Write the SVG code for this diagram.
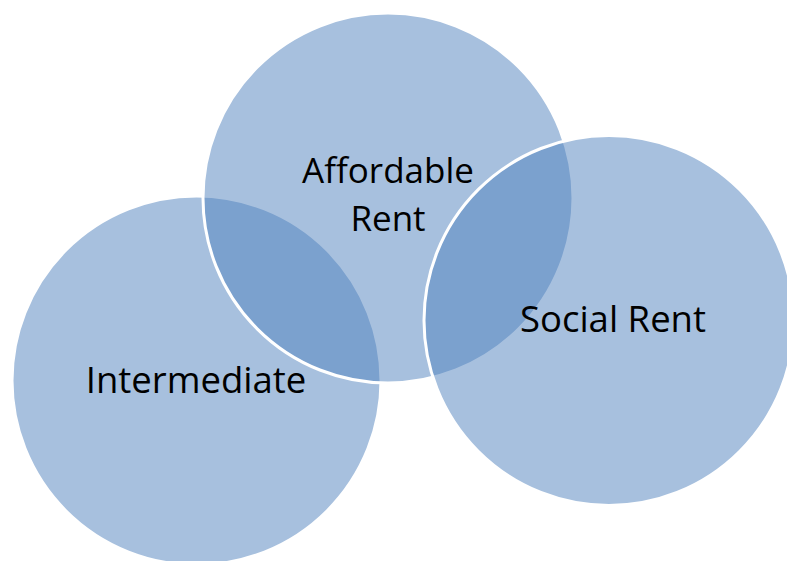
<svg xmlns="http://www.w3.org/2000/svg" width="787" height="561" viewBox="0 0 787 561">
<style>
.c{fill:#4F81BD;fill-opacity:0.5;stroke:#FFFFFF;stroke-width:3}
.t{font-family:"Open Sans","Liberation Sans",sans-serif;font-size:36.5px;fill:#000000;text-anchor:middle}
.a{font-size:35px}
</style>
<rect width="787" height="561" fill="#FFFFFF"/>
<g id="intermediate"><circle class="c" cx="196.5" cy="380.5" r="184.5"/><text class="t" x="196" y="393">Intermediate</text></g>
<g id="affordable-rent"><circle class="c" cx="388" cy="198" r="185"/><text class="t a" x="388" y="183">Affordable</text><text class="t a" x="388" y="231">Rent</text></g>
<g id="social-rent"><circle class="c" cx="609" cy="320.5" r="185"/><text class="t" x="613" y="332">Social Rent</text></g>
<g id="connectors"/>
</svg>
